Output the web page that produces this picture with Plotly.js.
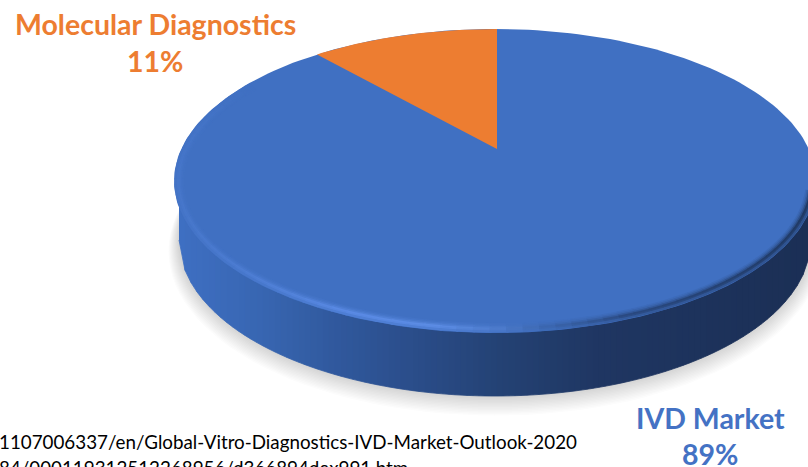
<!DOCTYPE html>
<html><head><meta charset="utf-8">
<script src="https://cdn.plot.ly/plotly-3.0.1.min.js"></script>
<style>html,body{margin:0;padding:0;background:#fff;overflow:hidden}#c{width:808px;height:467px}</style>
</head><body><div id="c"></div>
<script>
const categories = ['IVD Market', 'Molecular Diagnostics'];
const shares = [89, 11];
const sliceColors = ['#4070c2', '#ed7d31'];
const labelColors = ['#4472c4', '#ed7d31'];
const footnotes = [
  '1107006337/en/Global-Vitro-Diagnostics-IVD-Market-Outlook-2020',
  '84/000119312512268956/d366894dex991.htm'
];

// disc geometry in the axis units (axes span the window 1:1)
const top_ = {cx: 495, cy: 181, rx: 321, ry: 152, apexX: 497, apexY: 149, spread: 1.066};
const bot = {cx: 495, cy: 240, rx: 316, ry: 156};
const sideStops = [[170,'#3f70c4'],[260,'#3866b2'],[340,'#30589c'],[420,'#2a4c88'],[500,'#244274'],[600,'#1f3662'],[808,'#1b2f55']];
const rimStops = [[170,'#4676c9'],[250,'#4e7ed4'],[340,'#5a8ae4'],[430,'#5c8ce4'],[490,'#4d7bcc'],[540,'#3b66ae'],[620,'#2a4980'],[808,'#203963']];

function hex(c){return [1,3,5].map(i=>parseInt(c.substr(i,2),16));}
function rampRgb(stops,x){
  if(x<=stops[0][0])return hex(stops[0][1]);
  for(let i=1;i<stops.length;i++){
    if(x<=stops[i][0]){
      const f=(x-stops[i-1][0])/(stops[i][0]-stops[i-1][0]);
      const a=hex(stops[i-1][1]),b=hex(stops[i][1]);
      return a.map((v,k)=>v+(b[k]-v)*f);
    }
  }
  return hex(stops[stops.length-1][1]);
}
const css=c=>'rgb('+c.map(Math.round).join(',')+')';
const mix=(a,b,f)=>a.map((v,i)=>v+(b[i]-v)*f);
const rad=d=>d*Math.PI/180;
function ell(e,phi){return [e.cx+e.rx*Math.sin(rad(phi)), e.cy-e.ry*Math.cos(rad(phi))];}
function arc(e,from,to,n){const p=[];for(let i=0;i<=n;i++)p.push(ell(e,from+(to-from)*i/n));return p;}
// true pie angle -> point on the rim of the tilted disc, seen in perspective
const c0=top_.cy-top_.apexY, a0=c0/top_.ry, d0=top_.rx*Math.sqrt(1-a0*a0);
function disc(theta){
  const u=Math.sin(rad(theta)),v=Math.cos(rad(theta)),w=1+a0*v;
  const dx=top_.spread*d0*u/w, dy=c0-(top_.ry*v+c0)/w;
  // walk along the ray from the apex until it meets the rim ellipse
  const ox=(top_.apexX-top_.cx)/top_.rx, oy=(top_.apexY-top_.cy)/top_.ry, rx=dx/top_.rx, ry=dy/top_.ry;
  const A=rx*rx+ry*ry,B=2*(ox*rx+oy*ry),C=ox*ox+oy*oy-1;
  const t=(-B+Math.sqrt(B*B-4*A*C))/(2*A);
  return [top_.apexX+dx*t, top_.apexY+dy*t];
}
const traces=[];
function poly(pts,fill,lw,lc){
  traces.push({type:'scatter',mode:'lines',x:pts.map(p=>p[0]),y:pts.map(p=>p[1]),fill:'toself',fillcolor:fill,
    line:{width:lw||0,color:lc||fill},hoverinfo:'skip',showlegend:false});
}
function line(pts,color,w){
  traces.push({type:'scatter',mode:'lines',x:pts.map(p=>p[0]),y:pts.map(p=>p[1]),
    line:{width:w,color:color},hoverinfo:'skip',showlegend:false});
}
// soft ground shadow
for(let k=14;k>=1;k--){
  poly(arc({cx:bot.cx,cy:bot.cy+k*0.8,rx:bot.rx+k*0.75,ry:bot.ry+k*0.6},0,360,120),'rgba(70,70,50,0.016)');
}
// side wall: strips shaded left to right
const step=6;
const lowY=(e,xx)=>{const t=(xx-e.cx)/e.rx;return e.cy+e.ry*Math.sqrt(Math.max(0,1-t*t));};
for(let x=bot.cx-bot.rx;x<814;x+=step){
  const x2=Math.min(x+step,bot.cx+bot.rx);
  const col=css(rampRgb(sideStops,x+step/2));
  poly([[x,top_.cy],[x2,top_.cy],[x2,lowY(bot,x2)],[x,lowY(bot,x)]],col,0.8,col);
}
// top face
poly(arc(top_,0,360,240),sliceColors[0]);
// bevel along the front rim: a soft band, brightest a few pixels inside the edge
const faceRgb=hex(sliceColors[0]);
const bevel=[[9,0.12],[7.5,0.3],[6,0.6],[4.5,1],[3,0.9],[1.5,0.55]];
bevel.forEach(b=>{
  const e={cx:top_.cx,cy:top_.cy,rx:top_.rx-b[0],ry:top_.ry-b[0]};
  for(let p=310;p>96;p-=3){
    const seg=arc(e,p,p-3.4,2);
    // fades out toward the upper left where the rim meets the lit part of the face
    const fade=p>270?(310-p)/40:1;
    const c=mix(faceRgb,rampRgb(rimStops,seg[0][0]),b[1]*fade);
    line(seg,css(c),2.2);
  }
});
// slices: each wedge runs from its cumulative start share to its end share
const total=shares.reduce((a,b)=>a+b,0);
let startTheta=0;
shares.forEach((s,i)=>{
  const end=startTheta+360*s/total;
  if(i>0){
    const pts=[[top_.apexX,top_.apexY]];
    for(let k=0;k<=30;k++)pts.push(disc(startTheta+(end-startTheta)*k/30));
    pts.push([top_.apexX,top_.apexY]);
    poly(pts,sliceColors[i]);
  }
  startTheta=end;
});
const lab=(i,x,y,t)=>({x:x,y:y,xref:'x',yref:'y',text:t,showarrow:false,xanchor:'center',yanchor:'middle',
  font:{family:'Lato, Carlito, sans-serif',size:28.5,color:labelColors[i]}});
const foot=(y,t)=>({x:0,y:y,xref:'x',yref:'y',xshift:-2,text:t,showarrow:false,xanchor:'left',yanchor:'top',borderpad:0,
  font:{family:'Lato, sans-serif',size:18.8,color:'#000'}});
const annotations=[
  lab(1,155,24,'<b>'+categories[1]+'</b>'),
  lab(1,155,61,'<b>'+shares[1]+'%</b>'),
  lab(0,710,418,'<b>'+categories[0]+'</b>'),
  lab(0,710,454,'<b>'+shares[0]+'%</b>'),
  foot(429,footnotes[0]),
  foot(455,footnotes[1])
];
Plotly.newPlot('c',traces,{
  width:808,height:467,margin:{l:0,r:0,t:0,b:0},paper_bgcolor:'#fff',plot_bgcolor:'#fff',showlegend:false,
  xaxis:{range:[0,808],visible:false,fixedrange:true},
  yaxis:{range:[467,0],visible:false,fixedrange:true},
  annotations:annotations
},{displayModeBar:false,staticPlot:true});
</script></body></html>
